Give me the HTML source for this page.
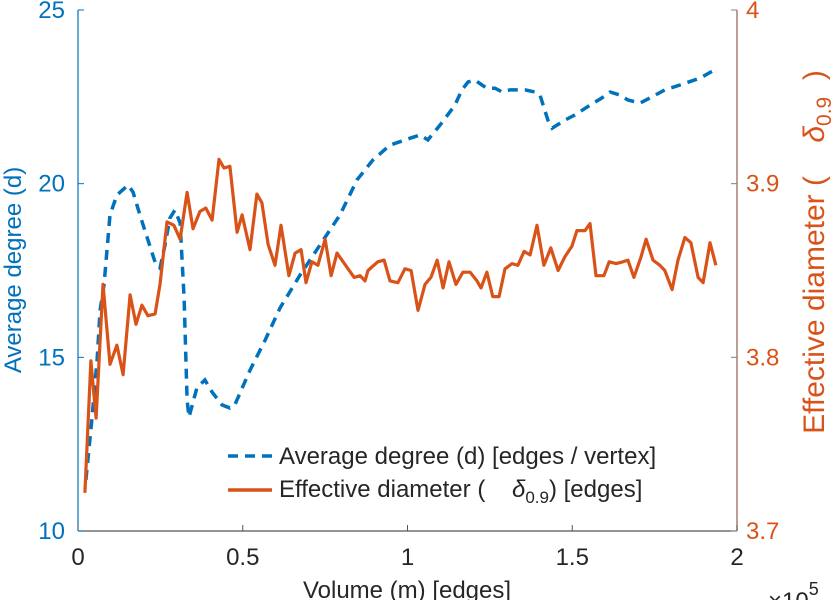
<!DOCTYPE html>
<html><head><meta charset="utf-8"><style>
body{margin:0;background:#fff;}
svg text{font-family:"Liberation Sans",sans-serif;white-space:pre;}
</style></head><body>
<svg id="chart" width="838" height="600" viewBox="0 0 838 600" xmlns="http://www.w3.org/2000/svg">
<g id="axes"></g>
<g id="series"></g>
<g id="legend">
  <line x1="228" y1="456" x2="272" y2="456" stroke="#0072BD" stroke-width="3.5" stroke-dasharray="10,7"/>
  <text x="279" y="464" font-size="24" fill="#262626">Average degree (d) [edges / vertex]</text>
  <line x1="228" y1="490" x2="272" y2="490" stroke="#D95319" stroke-width="3.5"/>
  <text x="279" y="497" font-size="24" fill="#262626" xml:space="preserve">Effective diameter (    <tspan font-style="italic">δ</tspan><tspan font-size="17" dy="6">0.9</tspan><tspan dy="-6">) [edges]</tspan></text>
</g>
</svg>
<script>
const degX=[.024,.042,.058,.067,.079,.097,.118,.152,.167,.188,.212,.234,.249,.264,.279,.294,.310,.322,.331,.337,.361,.385,.407,.437,.461,.476,.522,.568,.613,.674,.734,.795,.847,.895,.947,1.008,1.038,1.062,1.099,1.144,1.165,1.184,1.205,1.226,1.241,1.266,1.287,1.311,1.357,1.387,1.402,1.426,1.439,1.478,1.508,1.554,1.590,1.615,1.645,1.669,1.706,1.736,1.781,1.827,1.888,1.942];
const degY=[11.47,13.19,14.92,16.36,17.08,19.10,19.67,19.96,19.76,19.10,18.38,17.74,17.57,18.23,19.01,19.24,18.87,16.71,13.77,13.28,14.12,14.35,14.00,13.63,13.54,13.63,14.63,15.50,16.42,17.37,18.23,19.10,20.11,20.68,21.11,21.31,21.40,21.26,21.69,22.26,22.70,22.93,22.98,22.84,22.75,22.75,22.64,22.70,22.70,22.64,22.55,21.83,21.60,21.83,21.98,22.26,22.47,22.64,22.55,22.41,22.32,22.47,22.70,22.84,23.04,23.33];
const diaX=[.021,.039,.055,.076,.097,.118,.137,.158,.176,.194,.212,.234,.249,.270,.291,.310,.331,.349,.370,.388,.407,.428,.443,.461,.483,.498,.522,.543,.558,.577,.598,.616,.640,.659,.677,.692,.710,.728,.750,.768,.786,.801,.838,.856,.871,.880,.892,.910,.929,.947,.971,.992,1.011,1.032,1.053,1.071,1.090,1.108,1.126,1.147,1.168,1.190,1.211,1.223,1.241,1.259,1.278,1.296,1.317,1.335,1.354,1.372,1.393,1.414,1.435,1.457,1.478,1.499,1.514,1.539,1.554,1.572,1.596,1.612,1.633,1.654,1.669,1.687,1.709,1.724,1.745,1.766,1.781,1.803,1.821,1.842,1.860,1.882,1.897,1.918,1.936];
const diaY=[3.722,3.798,3.765,3.842,3.796,3.807,3.790,3.836,3.819,3.830,3.824,3.825,3.842,3.878,3.876,3.868,3.895,3.874,3.884,3.886,3.879,3.914,3.909,3.910,3.872,3.882,3.862,3.894,3.889,3.865,3.853,3.876,3.847,3.860,3.862,3.843,3.855,3.853,3.868,3.847,3.860,3.856,3.846,3.847,3.844,3.850,3.852,3.855,3.856,3.844,3.843,3.851,3.850,3.827,3.842,3.846,3.856,3.840,3.855,3.842,3.849,3.849,3.844,3.840,3.849,3.835,3.835,3.851,3.854,3.853,3.861,3.859,3.876,3.853,3.863,3.850,3.858,3.864,3.873,3.873,3.877,3.847,3.847,3.855,3.854,3.855,3.856,3.846,3.858,3.868,3.856,3.853,3.850,3.839,3.856,3.869,3.866,3.846,3.843,3.866,3.853];
const xTicks=[0,0.5,1,1.5,2];
const xTickLabels=["0","0.5","1","1.5","2"];
const yLTicks=[10,15,20,25];
const yRTicks=[3.7,3.8,3.9,4];
const yRTickLabels=["3.7","3.8","3.9","4"];

const L=78,R=737,T=10,B=531;
const sx=v=>L+(v-0)/2*(R-L);
const syL=v=>B-(v-10)/15*(B-T);
const syR=v=>B-(v-3.7)/0.3*(B-T);
const NS="http://www.w3.org/2000/svg";
function mk(tag,attrs,parent,txt){const e=document.createElementNS(NS,tag);for(const k in attrs)e.setAttribute(k,attrs[k]);if(txt!==undefined)e.textContent=txt;parent.appendChild(e);return e;}
const ax=document.getElementById('axes'), se=document.getElementById('series');

let e;
e=mk('line',{x1:L,y1:B,x2:R,y2:B,stroke:'#555','stroke-width':1.2},ax);


e=mk('line',{x1:L,y1:T,x2:L,y2:B,stroke:'#0072BD','stroke-width':1.2},ax);


e=mk('line',{x1:R,y1:T,x2:R,y2:B,stroke:'#a0786a','stroke-width':1.4},ax);



xTicks.forEach((v,i)=>{
  const t=mk('line',{x1:sx(v),y1:B,x2:sx(v),y2:B-6,stroke:'#555','stroke-width':1},ax);
  
  
  const l=mk('text',{x:sx(v),y:B+34,'font-size':24,fill:'#262626','text-anchor':'middle'},ax,xTickLabels[i]);
  
  
});
yLTicks.forEach(v=>{
  const t=mk('line',{x1:L,y1:syL(v),x2:L+6,y2:syL(v),stroke:'#0072BD','stroke-width':1},ax);
  
  
  const l=mk('text',{x:L-13,y:syL(v)+8,'font-size':24,fill:'#0072BD','text-anchor':'end'},ax,String(v));
  
  
});
yRTicks.forEach((v,i)=>{
  const t=mk('line',{x1:R-6,y1:syR(v),x2:R,y2:syR(v),stroke:'#a0786a','stroke-width':1},ax);
  
  
  const l=mk('text',{x:R+9,y:syR(v)+8,'font-size':24,fill:'#D95319'},ax,yRTickLabels[i]);
  
  
});

e=mk('text',{x:0,y:0,'font-size':24,fill:'#0072BD','text-anchor':'middle',transform:'translate(21,270) rotate(-90)'},ax,'Average degree (d)');


e=mk('text',{x:0,y:0,'font-size':30,fill:'#D95319','text-anchor':'middle',transform:'translate(824,252) rotate(-90)'},ax);


e.innerHTML='Effective diameter (    <tspan font-style="italic">δ</tspan><tspan font-size="21" dy="7">0.9</tspan><tspan dy="-7">  )</tspan>';
e=mk('text',{x:407,y:598,'font-size':24,fill:'#262626','text-anchor':'middle'},ax,'Volume (m) [edges]');


e=mk('text',{x:768,y:609,'font-size':24,fill:'#262626'},ax);


e.innerHTML='×10<tspan font-size="18" dy="-14">5</tspan>';

const dPts=degX.map((x,i)=>sx(x).toFixed(1)+','+syL(degY[i]).toFixed(1)).join(' ');
e=mk('polyline',{points:dPts,fill:'none',stroke:'#0072BD','stroke-width':3.5,'stroke-dasharray':'10,7'},se);


const rPts=diaX.map((x,i)=>sx(x).toFixed(1)+','+syR(diaY[i]).toFixed(1)).join(' ');
e=mk('polyline',{points:rPts,fill:'none',stroke:'#D95319','stroke-width':3.2,'stroke-linejoin':'round'},se);


</script>
</body></html>
